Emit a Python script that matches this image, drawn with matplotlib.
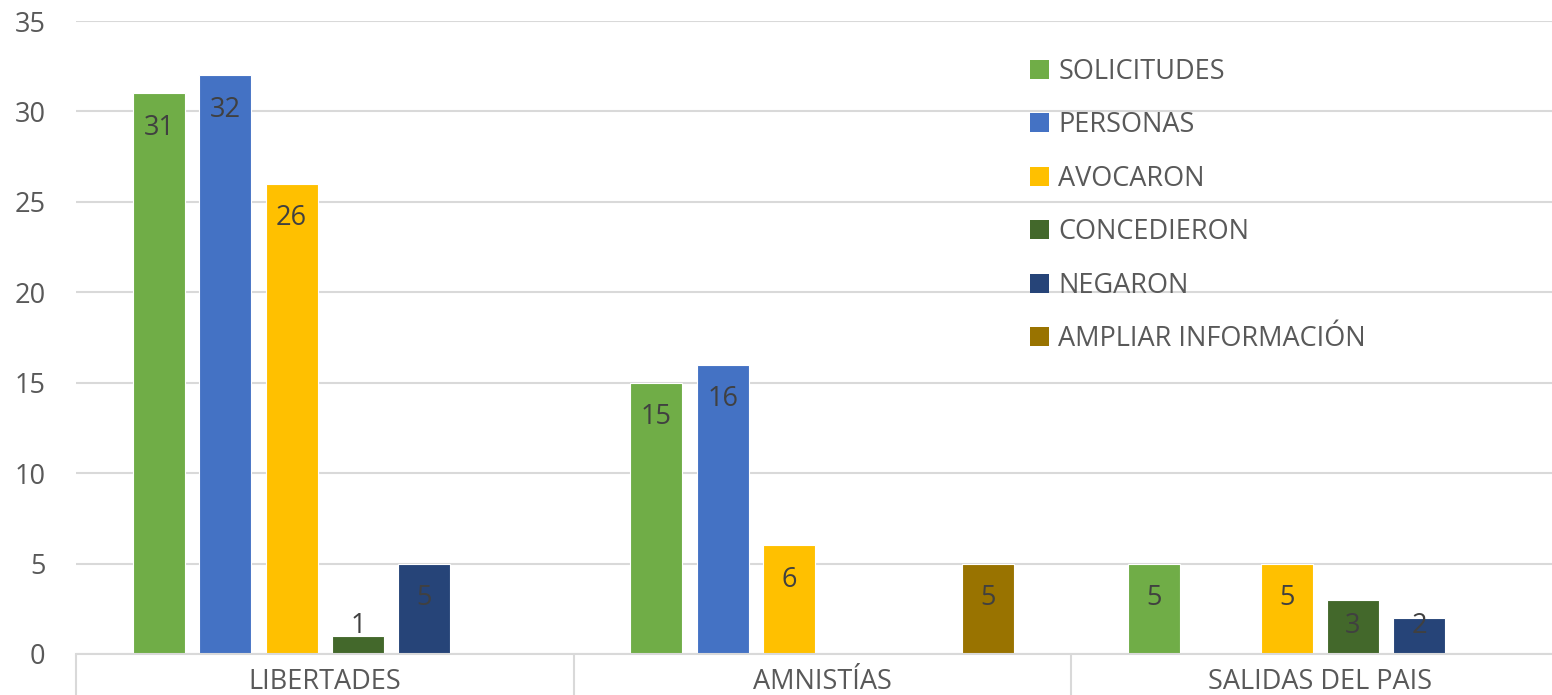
import matplotlib.pyplot as plt
import numpy as np

categories = ["LIBERTADES", "AMNISTÍAS", "SALIDAS DEL PAIS"]
series_names = ["SOLICITUDES", "PERSONAS", "AVOCARON", "CONCEDIERON", "NEGARON", "AMPLIAR INFORMACIÓN"]
# None = no bar in that category
solicitudes = [31, 15, 5]
personas = [32, 16, None]
avocaron = [26, 6, 5]
concedieron = [1, None, 3]
negaron = [5, None, 2]
ampliar = [None, 5, None]

series_values = [solicitudes, personas, avocaron, concedieron, negaron, ampliar]
colors = ["#70AD47", "#4472C4", "#FFC000", "#43682B", "#264478", "#997300"]

plt.rcParams['font.family'] = ['Open Sans', 'DejaVu Sans']
grey_text = "#595959"
grid_grey = "#D9D9D9"

fig = plt.figure(figsize=(15.52, 6.95), dpi=100)
ax = fig.add_axes([76 / 1552, 41 / 695, 1492.5 / 1552, 633 / 695])

x = np.arange(len(categories))
step = 0.1333
bar_w = 0.1045

for i, (vals, name, col) in enumerate(zip(series_values, series_names, colors)):
    xs = x + (i - 2.5) * step
    heights = [v if v is not None else 0 for v in vals]
    ax.bar(xs, heights, width=bar_w, color=col, edgecolor="white", linewidth=0.8,
           label=name, zorder=3)
    for xx, v in zip(xs, vals):
        if v is None:
            continue
        # inside end label, kept above the axis for short bars
        ypos = max(v - 1.9, 1.55)
        ax.text(xx, ypos, str(v), ha="center", va="center", fontsize=19.5,
                color="#404040", zorder=4)

ax.set_xlim(-0.5, 2.5)
ax.set_ylim(0, 35)
ax.set_yticks(np.arange(0, 36, 5))
ax.yaxis.grid(True, color=grid_grey, linewidth=1.5, zorder=0)
ax.set_axisbelow(True)

for s in ["top", "right", "left"]:
    ax.spines[s].set_visible(False)
ax.spines["bottom"].set_color(grid_grey)
ax.spines["bottom"].set_linewidth(1.5)
ax.spines["bottom"].set_zorder(5)

ax.set_xticks(x)
ax.set_xticklabels(categories)
ax.set_xticks(np.arange(-0.5, 3.0, 1.0), minor=True)
ax.tick_params(axis="x", which="major", length=0, pad=10, labelsize=19.5, labelcolor=grey_text)
ax.tick_params(axis="x", which="minor", length=32, width=1.5, color=grid_grey)
ax.tick_params(axis="y", length=0, pad=22, labelsize=19.5, labelcolor=grey_text)

leg = ax.legend(loc="upper left", bbox_to_anchor=(1030 / 1552, 1 - 58 / 695),
                bbox_transform=fig.transFigure, frameon=False, fontsize=19.5,
                handlelength=0.7, handleheight=0.7, handletextpad=0.35,
                labelspacing=0.94, borderpad=0, borderaxespad=0)
for t in leg.get_texts():
    t.set_color(grey_text)
for h in leg.legend_handles:
    h.set_edgecolor("none")

fig.savefig("out.png", dpi=100)
